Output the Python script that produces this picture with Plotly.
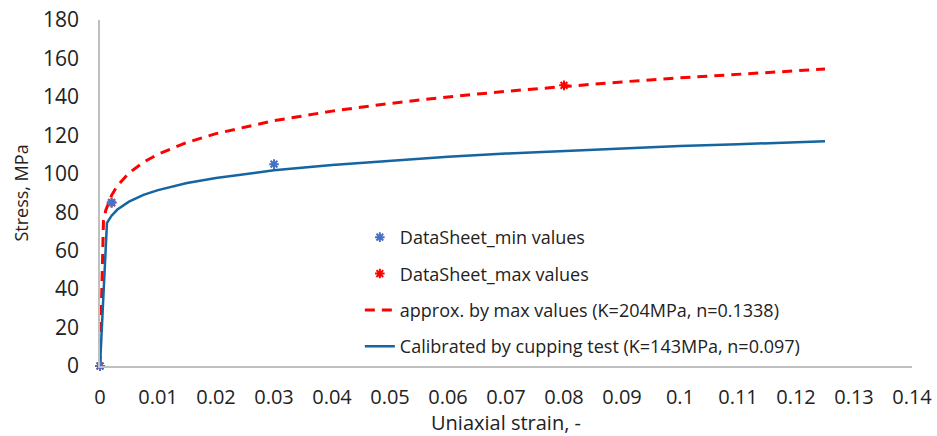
import plotly.graph_objects as go

# Data
min_strain = [0, 0.002, 0.03]
min_stress = [0, 85, 105]

max_strain = [0, 0.002, 0.08]
max_stress = [0, 85, 146]

approx_strain = [0, 0.0006, 0.001, 0.002, 0.003, 0.005, 0.0075, 0.01, 0.015, 0.02,
                 0.03, 0.04, 0.05, 0.06, 0.07, 0.08, 0.09, 0.1, 0.11, 0.125]
approx_stress = [0, 75.6, 81.0, 88.8, 93.8, 100.4, 106.0, 110.2, 116.3, 120.9,
                 127.6, 132.6, 136.6, 140.0, 142.9, 145.5, 147.8, 149.9, 151.8, 154.5]

calib_strain = [0, 0.0012, 0.002, 0.003, 0.005, 0.0075, 0.01, 0.015, 0.02,
                0.03, 0.04, 0.05, 0.06, 0.07, 0.08, 0.09, 0.1, 0.11, 0.125]
calib_stress = [0, 74.5, 78.2, 81.4, 85.5, 89.0, 91.5, 95.2, 97.8,
                101.8, 104.6, 106.9, 108.9, 110.5, 111.9, 113.2, 114.4, 115.4, 116.9]

x_ticks = [0, 0.01, 0.02, 0.03, 0.04, 0.05, 0.06, 0.07, 0.08, 0.09, 0.1, 0.11, 0.12, 0.13, 0.14]
x_tick_labels = ["0", "0.01", "0.02", "0.03", "0.04", "0.05", "0.06", "0.07", "0.08",
                 "0.09", "0.1", "0.11", "0.12", "0.13", "0.14"]
y_ticks = [0, 20, 40, 60, 80, 100, 120, 140, 160, 180]

FONT = "'Open Sans', 'Noto Sans', Arial, sans-serif"

fig = go.Figure()

fig.add_trace(go.Scatter(
    x=approx_strain, y=approx_stress, mode="lines",
    name="approx. by max values (K=204MPa, n=0.1338)",
    line=dict(color="#ff0000", width=3, dash="10px,7px"),
    legendgroup="c", legendrank=3,
))
fig.add_trace(go.Scatter(
    x=calib_strain, y=calib_stress, mode="lines",
    name="Calibrated by cupping test (K=143MPa, n=0.097)",
    line=dict(color="#1565a0", width=2.5),
    legendgroup="d", legendrank=4,
))
fig.add_trace(go.Scatter(
    x=max_strain, y=max_stress, mode="markers",
    name="DataSheet_max values",
    marker=dict(symbol="asterisk-open", size=8, color="#ff0000",
                line=dict(color="#ff0000", width=2)),
    legendgroup="b", legendrank=2, cliponaxis=False,
))
fig.add_trace(go.Scatter(
    x=min_strain, y=min_stress, mode="markers",
    name="DataSheet_min values",
    marker=dict(symbol="asterisk-open", size=8, color="#4472c4",
                line=dict(color="#4472c4", width=2)),
    legendgroup="a", legendrank=1, cliponaxis=False,
))

fig.update_layout(
    width=937, height=436,
    margin=dict(l=100, r=25, t=20, b=70, autoexpand=False),
    paper_bgcolor="white", plot_bgcolor="white",
    font=dict(family=FONT, color="#222222", size=18),
    showlegend=True,
    legend=dict(
        x=0.32, y=0.425, xanchor="left", yanchor="top",
        bgcolor="rgba(0,0,0,0)",
        font=dict(family=FONT, size=18, color="#222222"),
        tracegroupgap=10, traceorder="grouped",
    ),
    xaxis=dict(
        range=[0, 0.14], tickvals=x_ticks, ticktext=x_tick_labels,
        showgrid=False, zeroline=False, showline=True, linecolor="#bfbfbf", linewidth=1.5,
        ticks="", tickfont=dict(size=20), ticklabelstandoff=12, automargin=False,
        title=dict(text="Uniaxial strain, -", font=dict(size=20), standoff=5),
    ),
    yaxis=dict(
        range=[0, 180], tickvals=y_ticks,
        showgrid=False, zeroline=False, showline=True, linecolor="#bfbfbf", linewidth=1.5,
        ticks="", tickfont=dict(size=21), ticklabelstandoff=15, automargin=False,
        title=dict(text="Stress, MPa", font=dict(size=18), standoff=10),
    ),
)

fig.write_html("out.html")
